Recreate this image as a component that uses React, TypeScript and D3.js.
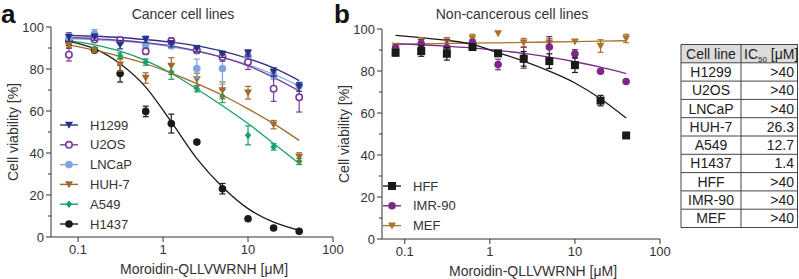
import React from "react";
import * as d3 from "d3";

// concentrations (µM), 2-fold dilutions
const conc = [0.078, 0.156, 0.3125, 0.625, 1.25, 2.5, 5, 10, 20, 40];

// Panel a – cancer cell lines
const cancerNames = ["H1299", "U2OS", "LNCaP", "HUH-7", "A549", "H1437"];
const h1299 = [95.2, 95.2, 91.6, 94.1, 92.0, 89.7, 87.0, 87.6, 78.6, 71.4];
const h1299Err = [2, 1.5, 2, 1.5, 1.5, 1.5, 1.5, 1.5, 2, 2];
const h1299Fit = [96, 95.6, 95, 94, 92.8, 91, 88.5, 85, 80.5, 74.5];
const u2os = [86.8, 94, 93.7, 88.4, 93.3, 88.9, 85.7, 83.3, 70.6, 66.5];
const u2osErr = [3, 1, 1.5, 1.5, 1.5, 1.5, 2, 3.5, 6, 7];
const u2osFit = [95, 94.5, 93.7, 92.5, 91, 88.6, 85.5, 81.5, 76, 69.5];
const lncap = [94.8, 96.8, 93, 91.6, 91, 80.2, 80.2, 86, 77, 72.2];
const lncapErr = [1, 2, 1, 1, 1, 4.5, 7.5, 1.5, 2, 1.5];
const lncapFit = [94.5, 94, 93.3, 92.2, 90.6, 88.4, 85.5, 82, 77.5, 72];
const huh7 = [91.3, 88.9, 82, 75.7, 81.4, 75, 69.8, 68.7, 53.5, 38.1];
const huh7Err = [1, 1, 3, 2.5, 4, 3, 4, 3, 2, 2];
const huh7Fit = [91.5, 89, 86, 82.5, 78, 73, 67.5, 61, 54, 46];
const a549 = [93.2, 89.4, 86.2, 83.3, 78.6, 70.6, 67, 48.4, 42.9, 36];
const a549Err = [1, 1, 1.5, 1.5, 3.5, 1.5, 3, 4.5, 1.5, 1.5];
const a549Fit = [93.5, 91.5, 88.5, 84, 78, 70.5, 62.5, 54, 44.5, 35];
const h1437 = [93.2, 88.9, 77.8, 59.8, 54, 45.2, 23, 8.7, 4.3, 2.7];
const h1437Err = [2, 0.5, 4, 2.5, 4.5, 0, 2.5, 0, 0, 0];
const h1437Fit = [93.2, 89.7, 82.5, 71.4, 54.8, 37.3, 23.8, 13.5, 7.1, 3.2];

// Panel b – non-cancerous cell lines
const normalNames = ["HFF", "IMR-90", "MEF"];
const hff = [88.7, 89.5, 88.2, 91.4, 88.4, 85.8, 84.7, 82.8, 65.9, 49.3];
const hffErr = [1.5, 2.5, 3, 1.5, 1, 3.5, 3.5, 3.5, 2.5, 0];
const hffFit = [97, 95.9, 94.6, 92.7, 88.7, 84.7, 79.9, 74.3, 66.8, 57.6];
const imr90 = [91, 93, 91, 93.5, 83.1, 86.3, 91.4, 88.2, 79.9, 75];
const imr90Err = [1, 2, 4, 1.5, 2.5, 5, 5, 2, 0, 0];
const imr90Fit = [93, 92.5, 91.8, 91, 89.8, 88.4, 86.6, 84.4, 81.8, 78.8];
const mef = [91.9, 93.9, 93.9, 95.5, 97.9, 93.5, 93.5, 94, 91.9, 95.5];
const mefErr = [1, 2, 2, 2, 0, 2, 2, 0.5, 3, 2];
const mefFit = [92.6, 92.9, 93.1, 93.3, 93.4, 93.6, 93.8, 94.0, 94.2, 94.4];

// Table
const tableLines = ["H1299", "U2OS", "LNCaP", "HUH-7", "A549", "H1437", "HFF", "IMR-90", "MEF"];
const tableIC50 = [">40", ">40", ">40", "26.3", "12.7", "1.4", ">40", ">40", ">40"];

const xTicks = [0.1, 1, 10, 100];
const yTicks = [0, 20, 40, 60, 80, 100];
const yMinor = [10, 30, 50, 70, 90];

const FONT = "'Liberation Sans', Arial, Helvetica, sans-serif";
const TXT = "#333";

type Series = { name: string; vals: number[]; err: number[]; fit: number[]; color: string; shape: string };

const cancer: Series[] = [
  { name: cancerNames[0], vals: h1299, err: h1299Err, fit: h1299Fit, color: "#2a3288", shape: "tri" },
  { name: cancerNames[1], vals: u2os, err: u2osErr, fit: u2osFit, color: "#7d3c98", shape: "open" },
  { name: cancerNames[2], vals: lncap, err: lncapErr, fit: lncapFit, color: "#7ea6dc", shape: "circle" },
  { name: cancerNames[3], vals: huh7, err: huh7Err, fit: huh7Fit, color: "#a06a2a", shape: "tri" },
  { name: cancerNames[4], vals: a549, err: a549Err, fit: a549Fit, color: "#16a06c", shape: "diamond" },
  { name: cancerNames[5], vals: h1437, err: h1437Err, fit: h1437Fit, color: "#1a1a1a", shape: "circle" },
];
const normal: Series[] = [
  { name: normalNames[0], vals: hff, err: hffErr, fit: hffFit, color: "#1a1a1a", shape: "square" },
  { name: normalNames[1], vals: imr90, err: imr90Err, fit: imr90Fit, color: "#7a2a84", shape: "circle" },
  { name: normalNames[2], vals: mef, err: mefErr, fit: mefFit, color: "#a8732c", shape: "tri" },
];

function Marker({ x, y, s }: { x: number; y: number; s: Series }) {
  const c = s.color;
  if (s.shape === "tri") {
    return <path d={`M${x - 4},${y - 3.2}L${x + 4},${y - 3.2}L${x},${y + 3.8}Z`} fill={c} />;
  }
  if (s.shape === "open") {
    return <circle cx={x} cy={y} r={3.2} fill="#fff" stroke={c} strokeWidth={1.6} />;
  }
  if (s.shape === "diamond") {
    return <path d={`M${x},${y - 3.8}L${x + 3.2},${y}L${x},${y + 3.8}L${x - 3.2},${y}Z`} fill={c} />;
  }
  if (s.shape === "square") {
    return <rect x={x - 4} y={y - 4} width={8} height={8} fill={c} />;
  }
  return <circle cx={x} cy={y} r={3.8} fill={c} />;
}

function Panel({
  series, x0, x1, yTop, yBot, dom0, title, letter, letterX, legendX, legendY, yLabelX,
}: {
  series: Series[]; x0: number; x1: number; yTop: number; yBot: number; dom0: number; title: string;
  letter: string; letterX: number; legendX: number; legendY: number; yLabelX: number;
}) {
  const x = d3.scaleLog().domain([dom0, 100]).range([x0, x1]);
  const y = d3.scaleLinear().domain([0, 100]).range([yBot, yTop]);
  const line = d3.line<number>().x((_, i) => x(conc[i])).y((d) => y(d)).curve(d3.curveMonotoneX);
  const order = [...series].reverse();
  return (
    <g fontFamily={FONT}>
      <text x={letterX} y={23} fontSize={26} fontWeight="bold" fill="#111">{letter}</text>
      <text x={(x0 + x1) / 2 - 9} y={19} fontSize={14} textAnchor="middle" fill={TXT}>{title}</text>
      {/* axes */}
      <line x1={x0} x2={x0} y1={yTop} y2={yBot} stroke={TXT} />
      <line x1={x0} x2={x1} y1={yBot} y2={yBot} stroke={TXT} />
      {yTicks.map((t) => (
        <g key={t}>
          <line x1={x0 - 5} x2={x0} y1={y(t)} y2={y(t)} stroke={TXT} />
          <text x={x0 - 7} y={y(t) + 4.5} fontSize={13} textAnchor="end" fill={TXT}>{t}</text>
        </g>
      ))}
      {yMinor.map((t) => (
        <line key={t} x1={x0 - 3} x2={x0} y1={y(t)} y2={y(t)} stroke={TXT} />
      ))}
      {xTicks.map((t) => (
        <g key={t}>
          <line x1={x(t)} x2={x(t)} y1={yBot} y2={yBot + 5} stroke={TXT} />
          <text x={x(t)} y={yBot + 17} fontSize={13} textAnchor="middle" fill={TXT}>{t}</text>
        </g>
      ))}
      <text x={(x0 + x1) / 2 + 12} y={yBot + 37} fontSize={14} textAnchor="middle" fill={TXT}>
        Moroidin-QLLVWRNH [μM]
      </text>
      <text transform={`translate(${yLabelX},${(yTop + yBot) / 2}) rotate(-90)`} fontSize={14} textAnchor="middle" fill={TXT}>
        Cell viability [%]
      </text>
      {/* fits */}
      {order.map((s) => (
        <path key={s.name + "f"} d={line(s.fit) || ""} fill="none" stroke={s.color} strokeWidth={1.3} />
      ))}
      {/* points */}
      {order.map((s) => (
        <g key={s.name}>
          {s.vals.map((v, i) => {
            const cx = x(conc[i]);
            const e = s.err[i];
            return (
              <g key={i}>
                {e > 0.8 && (
                  <g stroke={s.color} strokeWidth={1.2}>
                    <line x1={cx} x2={cx} y1={y(v - e)} y2={y(v + e)} />
                    <line x1={cx - 3} x2={cx + 3} y1={y(v - e)} y2={y(v - e)} />
                    <line x1={cx - 3} x2={cx + 3} y1={y(v + e)} y2={y(v + e)} />
                  </g>
                )}
                <Marker x={cx} y={y(v)} s={s} />
              </g>
            );
          })}
        </g>
      ))}
      {/* legend */}
      {series.map((s, i) => {
        const ly = legendY + i * 19.8;
        return (
          <g key={s.name + "l"}>
            <line x1={legendX - 9} x2={legendX + 9} y1={ly} y2={ly} stroke={s.color} strokeWidth={1.4} />
            <Marker x={legendX} y={ly} s={s} />
            <text x={legendX + 21} y={ly + 4.5} fontSize={13} fill={TXT}>{s.name}</text>
          </g>
        );
      })}
    </g>
  );
}

function Table() {
  const left = 681, mid = 741, right = 798, top = 44.5, rh = 18.3;
  const rows = tableLines.length + 1;
  return (
    <g fontFamily={FONT} fontSize={14} fill="#222">
      <rect x={left} y={top} width={right - left} height={rh} fill="#dcdcdc" />
      {d3.range(rows + 1).map((i) => (
        <line key={i} x1={left} x2={right} y1={top + i * rh} y2={top + i * rh} stroke="#444" strokeWidth={1} />
      ))}
      <line x1={left} x2={left} y1={top} y2={top + rows * rh} stroke="#444" />
      <line x1={mid} x2={mid} y1={top} y2={top + rows * rh} stroke="#444" />
      <line x1={right - 0.5} x2={right - 0.5} y1={top} y2={top + rows * rh} stroke="#444" />
      <text x={(left + mid) / 2} y={top + rh / 2 + 5} textAnchor="middle">Cell line</text>
      <text x={mid + 3} y={top + rh / 2 + 5}>
        IC<tspan fontSize={8} dy={3}>50</tspan><tspan dy={-3}> [μM]</tspan>
      </text>
      {tableLines.map((n, i) => (
        <g key={n}>
          <text x={(left + mid) / 2} y={top + (i + 1.5) * rh + 5} textAnchor="middle">{n}</text>
          <text x={right - 4} y={top + (i + 1.5) * rh + 5} textAnchor="end">{tableIC50[i]}</text>
        </g>
      ))}
    </g>
  );
}

export default function App() {
  return (
    <svg width={799} height={279} style={{ position: "absolute", left: 0, top: 0, background: "#fff" }}>
      <Panel series={cancer} x0={51} x1={333} yTop={27} yBot={237} dom0={0.048} title="Cancer cell lines"
        letter="a" letterX={1} legendX={69} legendY={125} yLabelX={18} />
      <Panel series={normal} x0={382} x1={660} yTop={29} yBot={239} dom0={0.054} title="Non-cancerous cell lines"
        letter="b" letterX={334} legendX={392} legendY={186} yLabelX={349} />
      <Table />
    </svg>
  );
}
